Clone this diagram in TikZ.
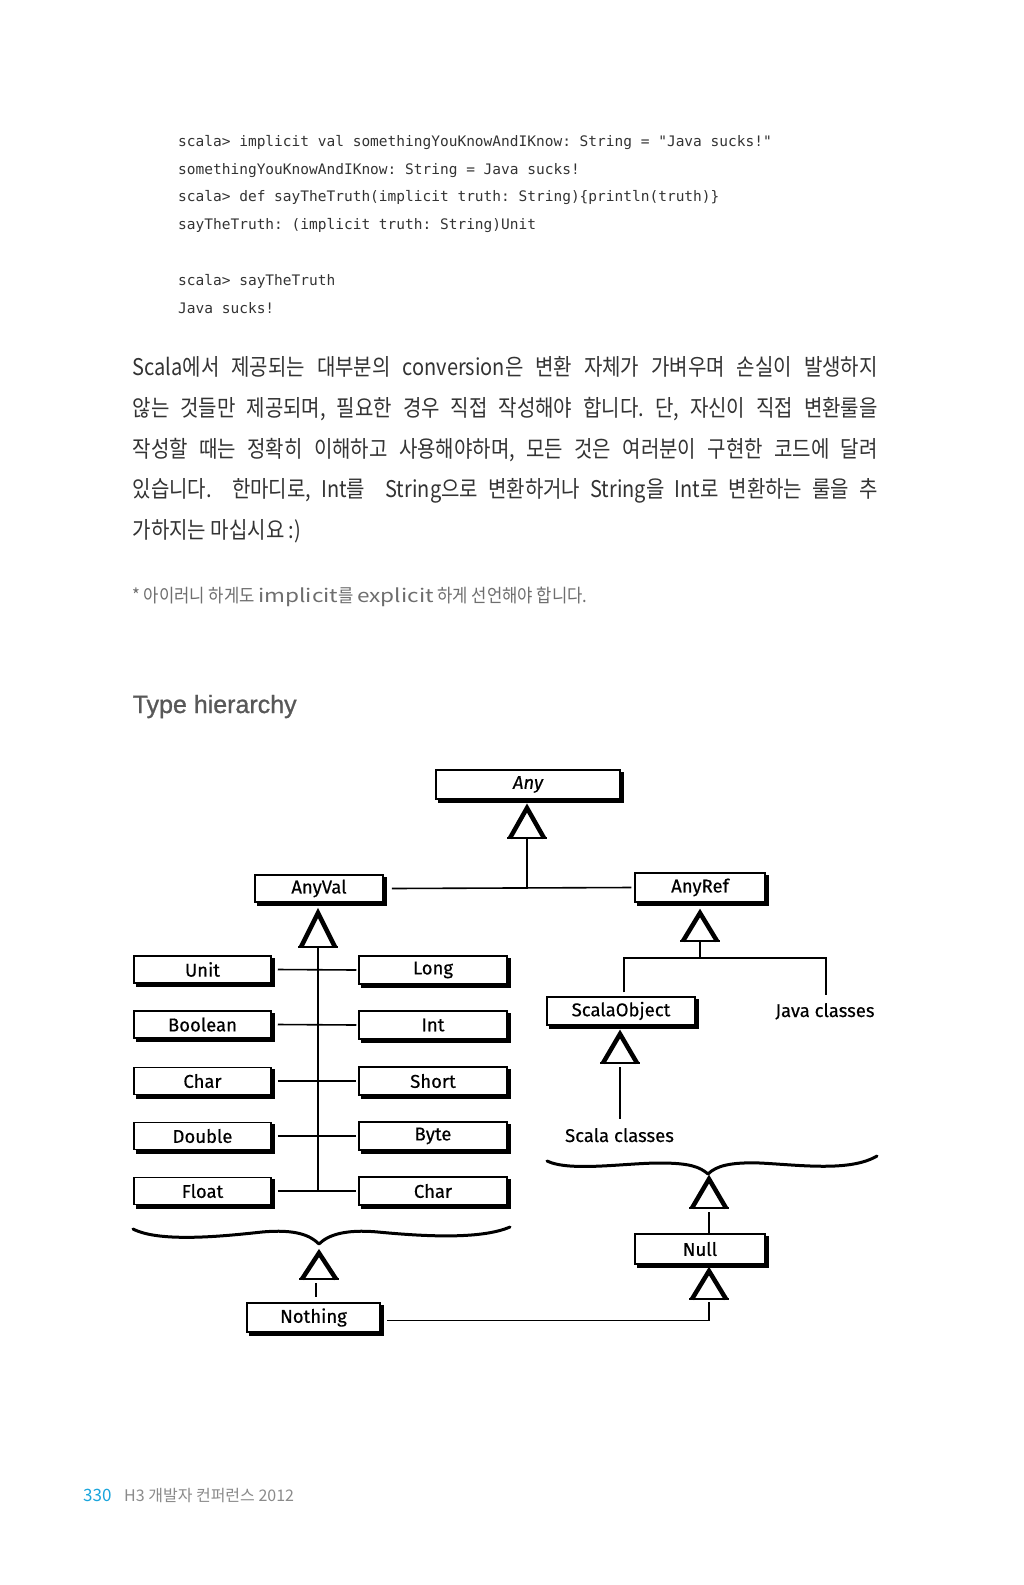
\documentclass[tikz,border=0pt]{standalone}
\usepackage{fontspec}
\setmainfont{Liberation Sans}
\newfontfamily\kr[FakeStretch=0.87]{Noto Sans CJK KR}
\newfontfamily\krnote[FakeStretch=0.9]{Noto Sans CJK KR}
\newfontfamily\krwide[FakeStretch=1.22]{Noto Sans CJK KR}
\newfontfamily\krplain{Noto Sans CJK KR}
\newfontfamily\codef{DejaVu Sans Mono}
\newfontfamily\dfont[FakeBold=0.4]{Fira Sans}
\newfontfamily\headf[FakeBold=1]{Liberation Sans}
\definecolor{bodytxt}{HTML}{333333}
\definecolor{notetxt}{HTML}{6E6E6E}
\definecolor{headtxt}{HTML}{585858}
\definecolor{pagecyan}{HTML}{19A5DC}
\definecolor{pagegray}{HTML}{8A8A8A}
\newcommand\uptri[4]{%
  \coordinate (#1) at (#2,#3);
  \coordinate (#1-b) at (#2,#3+#4);
  \draw[triside] (#2-17,#3+#4) -- (#2,#3) -- (#2+17,#3+#4);
  \draw[tribase] (#2-20,#3+#4) -- (#2+20,#3+#4);}
\frenchspacing
\begin{document}
\begin{tikzpicture}[x=1pt,y=-1pt,
  codeline/.style={anchor=base west, inner sep=0pt, text=bodytxt, font=\codef\fontsize{14.5}{17}\selectfont},
  krline/.style={anchor=base west, inner sep=0pt, text=bodytxt, font=\kr\fontsize{23}{26}\selectfont},
  cbox/.style={draw, line width=1.5pt, inner sep=0pt, font=\dfont\fontsize{18.5}{21}\selectfont, text=black},
  lbox/.style={cbox, minimum width=137pt, minimum height=27pt},
  rbox/.style={cbox, minimum width=148pt, minimum height=28pt},
  dlabel/.style={inner sep=0pt, text height=13pt, text depth=3pt, font=\dfont\fontsize{18.5}{21}\selectfont},
  shadowline/.style={line width=3.5pt, line cap=butt, line join=miter},
  triside/.style={line width=4.5pt, line join=miter, line cap=butt},
  tribase/.style={line width=2pt},
  conn/.style={line width=1.6pt},
  bracestyle/.style={line width=3pt, line cap=round, line join=round}]
\fill[white] (0,0) rectangle (1024,1585);
\useasboundingbox (0,0) rectangle (1024,1585);

% code
\node[codeline] (c1) at (178,146.5) {scala> implicit val somethingYouKnowAndIKnow: String = "Java sucks!"};
\node[codeline] (c2) at (178,174) {somethingYouKnowAndIKnow: String = Java sucks!};
\node[codeline] (c3) at (178,201) {scala> def sayTheTruth(implicit truth: String)\{println(truth)\}};
\node[codeline] (c4) at (178,229.5) {sayTheTruth: (implicit truth: String)Unit};
\node[codeline] (c5) at (178,285) {scala> sayTheTruth};
\node[codeline] (c6) at (178,313) {Java sucks!};

% body
\node[krline] (k1) at (132.5,375) {\makebox[745pt][s]{Scala에서 제공되는 대부분의 conversion은 변환 자체가 가벼우며 손실이 발생하지}};
\node[krline] (k2) at (132.5,416) {\makebox[745pt][s]{않는 것들만 제공되며, 필요한 경우 직접 작성해야 합니다. 단, 자신이 직접 변환룰을}};
\node[krline] (k3) at (132.5,457) {\makebox[745pt][s]{작성할 때는 정확히 이해하고 사용해야하며, 모든 것은 여러분이 구현한 코드에 달려}};
\node[krline] (k4) at (132.5,497) {\makebox[745pt][s]{있습니다.\ \ 한마디로, Int를\ \ String으로 변환하거나 String을 Int로 변환하는 룰을 추}};
\node[krline] (k5) at (132.5,538) {가하지는 마십시요 :)};

\node[anchor=base west, inner sep=0pt, text=notetxt, font=\krnote\fontsize{18.5}{22}\selectfont] (note) at (132,602.5) {* 아이러니 하게도 {\krwide implicit}를 {\krwide explicit} 하게 선언해야 합니다.};

\node[anchor=base west, inner sep=0pt, text=headtxt, font=\headf\fontsize{25}{29}\selectfont] (head) at (132.5,713) {Type hierarchy};

% diagram boxes
\node[cbox, minimum width=184pt, minimum height=29pt] (any) at (528,784.5) {\itshape Any};
\node[cbox, minimum width=128pt, minimum height=27pt] (anyval) at (319,888.5) {AnyVal};
\node[cbox, minimum width=130pt, minimum height=29pt] (anyref) at (700,887.5) {AnyRef};
\node[lbox] (unit) at (202.5,969.5) {Unit};
\node[lbox] (boolean) at (202.5,1024.5) {Boolean};
\node[lbox] (charl) at (202.5,1081) {Char};
\node[lbox] (double) at (202.5,1136) {Double};
\node[lbox] (float) at (202.5,1191) {Float};
\node[rbox] (long) at (433,970) {Long};
\node[rbox] (int) at (433,1025) {Int};
\node[rbox] (short) at (433,1081) {Short};
\node[rbox] (byte) at (433,1136) {Byte};
\node[rbox] (charr) at (433,1191) {Char};
\node[cbox, minimum width=148pt, minimum height=28pt] (scalaobj) at (621,1011) {ScalaObject};
\node[cbox, minimum width=130pt, minimum height=30pt] (null) at (700,1249) {Null};
\node[cbox, minimum width=133pt, minimum height=29pt] (nothing) at (313.5,1317.5) {Nothing};
\node[dlabel] (java) at (825,1012) {Java classes};
\node[dlabel] (scalacl) at (619.5,1137) {Scala classes};

\foreach \n in {any,anyval,anyref,unit,boolean,charl,double,float,long,int,short,byte,charr,scalaobj,null,nothing}
  \draw[shadowline] ([xshift=2.5pt,yshift=-1.5pt]\n.south west) -- ([xshift=1.5pt,yshift=-1.5pt]\n.south east) -- ([xshift=1.5pt,yshift=-2.5pt]\n.north east);

% triangles
\uptri{anytri}{527}{808}{30}
\uptri{avtri}{318}{913}{34}
\uptri{artri}{700}{913}{28}
\uptri{sotri}{620}{1034}{29}
\uptri{bltri}{319}{1253}{26}
\uptri{brtri}{709}{1179}{29}
\uptri{ntri}{709}{1271}{28}

% braces
\draw[bracestyle] (133,1229) .. controls (160,1243) and (225,1236) .. (262,1232) .. controls (295,1229) and (310,1235) .. (319,1244)
  .. controls (328,1235) and (345,1229) .. (378,1232) .. controls (420,1236) and (480,1240) .. (510,1227);
\draw[bracestyle] (547,1161) .. controls (570,1172) and (625,1163) .. (660,1163) .. controls (690,1163) and (700,1167) .. (708,1174)
  .. controls (716,1166) and (730,1162) .. (760,1163) .. controls (800,1165) and (850,1172) .. (877,1156);

% connectors
\coordinate (barL) at (624,958);
\coordinate (barR) at (826,958);
\draw[conn] (anytri-b) -- (anytri-b |- anyval.east);
\draw[conn] ([xshift=8pt]anyval.east) -- ([xshift=-3pt]anyref.west);
\draw[conn] (avtri-b) -- (avtri-b |- float.east);
\foreach \a/\b in {unit/long,boolean/int,charl/short,double/byte,float/charr}
  \draw[conn] ([xshift=6pt]\a.east) -- ([xshift=-2pt]\b.west);
\draw[conn] (artri-b) -- (artri-b |- barL);
\draw[conn] ([xshift=3pt,yshift=4pt]scalaobj.north) -- ([xshift=3pt]scalaobj.north |- barL) -- (barR) -- ([yshift=8.5pt]java.north -| barR);
\draw[conn] ([yshift=-4pt]sotri-b) -- ([yshift=10pt]scalacl.north -| sotri-b);
\draw[conn] ([yshift=-4pt]brtri-b) -- (brtri-b |- null.north);
\draw[conn] ([yshift=-3pt]ntri-b) |- ([xshift=6pt,yshift=-3pt]nothing.east);
\draw[conn] ([xshift=-3pt,yshift=-4pt]bltri-b) -- ([xshift=-3pt,yshift=5pt]bltri-b |- nothing.north);

% footer
\node[anchor=base west, inner sep=0pt, text=pagecyan, font=\krplain\fontsize{17}{20}\selectfont] (pnum) at (83,1501) {330};
\node[anchor=base west, inner sep=0pt, text=pagegray, font=\krplain\fontsize{16}{20}\selectfont] (ptitle) at (124,1501) {H3 개발자 컨퍼런스 2012};
\end{tikzpicture}
\end{document}
